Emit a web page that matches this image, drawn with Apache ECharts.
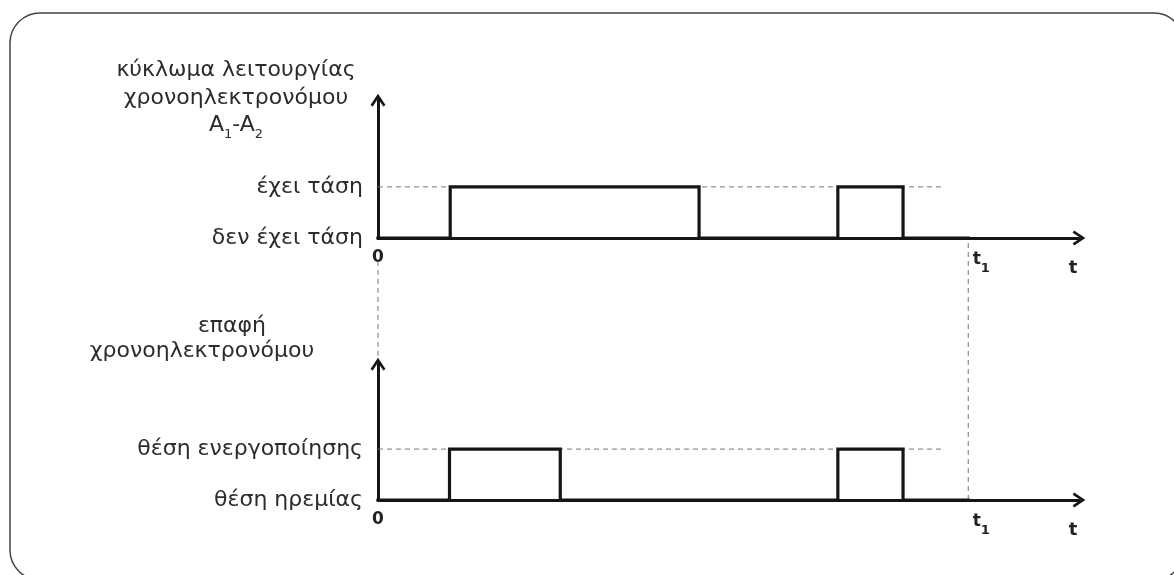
<!DOCTYPE html>
<html><head><meta charset="utf-8">
<script src="https://cdn.jsdelivr.net/npm/echarts@6/dist/echarts.min.js"></script>
<style>html,body{margin:0;padding:0;background:#fff}#c{width:1174px;height:575px}</style>
</head><body><div id="c"></div>
<script>
// ---- data ----
const timeMax = 100;
const t1 = 84.2;
const topLevels = ['δεν έχει τάση', 'έχει τάση'];
const bottomLevels = ['θέση ηρεμίας', 'θέση ενεργοποίησης'];
const topSignal = [[0,0],[10.3,0],[10.3,1],[45.8,1],[45.8,0],[65.6,0],[65.6,1],[74.9,1],[74.9,0],[84.2,0]];
const bottomSignal = [[0,0],[10.2,0],[10.2,1],[26.0,1],[26.0,0],[65.6,0],[65.6,1],[74.9,1],[74.9,0],[84.2,0]];
const topRefLine = [[0,1],[80.5,1]];
const bottomRefLine = [[0,1],[80.5,1]];
const zeroGuide = [[0,0.55],[0,0.91]];
const t1Guide = [[t1,0],[t1,1]];
const xTickValues = [0, t1];
const topTitle = ['κύκλωμα λειτουργίας', 'χρονοηλεκτρονόμου'];
const bottomTitle = ['επαφή', 'χρονοηλεκτρονόμου'];

const FONT = 'DejaVu Sans';
const TXT = '#2c2c2c';
const LINE = '#151515';
const FS = 22;
const arrow = 'path://M0,9 L6,0 L12,9 L10.2,10.2 L6,3.8 L1.8,10.2 Z';

function xAxisFor(gi, show) {
  return {
    type: 'value', gridIndex: gi, min: 0, max: timeMax, show: show,
    splitLine: {show: false}, axisTick: {show: false},
    axisLine: {show: show, symbol: ['none', arrow], symbolSize: [15, 16], lineStyle: {color: LINE, width: 3}},
    axisLabel: {
      show: show, customValues: xTickValues, margin: 9,
      formatter: v => v === 0 ? '{b|0}' : '{t|t}{s|1}',
      rich: {
        b: {fontFamily: FONT, fontWeight: 'bold', fontSize: 17, color: '#222', lineHeight: 22},
        t: {fontFamily: FONT, fontWeight: 'bold', fontSize: 17, color: '#222', lineHeight: 22, padding: [4,0,0,26]},
        s: {fontFamily: FONT, fontWeight: 'bold', fontSize: 13, color: '#222', lineHeight: 22, verticalAlign: 'bottom', padding: [0,0,-6,0]}
      }
    },
    name: show ? 't' : '', nameLocation: 'end', nameGap: -6,
    nameTextStyle: {fontFamily: FONT, fontWeight: 'bold', fontSize: 18, color: '#222', align: 'center', verticalAlign: 'top', padding: [21,0,0,0]}
  };
}
function yAxisFor(gi, max, levels) {
  return {
    type: 'value', gridIndex: gi, min: 0, max: max, interval: 1,
    splitLine: {show: false}, axisTick: {show: false},
    axisLine: {show: true, symbol: ['none', arrow], symbolSize: [15, 16], lineStyle: {color: LINE, width: 3}},
    axisLabel: {
      margin: 15, fontFamily: FONT, fontSize: FS, color: TXT,
      formatter: v => v === 0 ? levels[0] : (v === 1 ? levels[1] : '')
    }
  };
}
const dashStyle = {color: '#777', width: 1, type: [5, 4]};
const sigStyle = {color: LINE, width: 3.2, join: 'miter', cap: 'square'};
const titleStyle = {fontFamily: FONT, fontSize: FS, fontWeight: 'normal', color: TXT, lineHeight: 26};

const option = {
  animation: false,
  backgroundColor: '#fff',
  graphic: [{type: 'rect', shape: {x: 10, y: 13, width: 1174, height: 567, r: 30}, style: {fill: 'none', stroke: '#444', lineWidth: 1.5}, silent: true}],
  title: [
    {text: topTitle[0] + '\n' + topTitle[1] + '\n{a|A}{s|1}{a|-A}{s|2}', left: 236, top: 57, textAlign: 'center', padding: 0,
     textStyle: {fontFamily: FONT, fontSize: FS, fontWeight: 'normal', color: TXT, lineHeight: 27.5,
       rich: {a: {fontFamily: FONT, fontSize: FS, color: TXT, lineHeight: 27.5},
              s: {fontFamily: FONT, fontSize: 13, color: TXT, lineHeight: 27.5, verticalAlign: 'bottom', padding: [0,0,-2,0]}}}},
    {text: bottomTitle[0], left: 232, top: 313, textAlign: 'center', padding: 0, textStyle: titleStyle},
    {text: bottomTitle[1], left: 202, top: 338, textAlign: 'center', padding: 0, textStyle: titleStyle}
  ],
  grid: [
    {left: 378, right: 95, top: 100, bottom: 337},
    {left: 378, right: 95, top: 364, bottom: 75},
    {left: 378, right: 95, top: 238, bottom: 75}
  ],
  xAxis: [xAxisFor(0, true), xAxisFor(1, true), xAxisFor(2, false)],
  yAxis: [yAxisFor(0, 2.7, topLevels), yAxisFor(1, 2.67, bottomLevels),
          {type: 'value', gridIndex: 2, min: 0, max: 1, show: false}],
  series: [
    {type: 'line', xAxisIndex: 0, yAxisIndex: 0, data: topRefLine, showSymbol: false, lineStyle: dashStyle, z: 1},
    {type: 'line', xAxisIndex: 1, yAxisIndex: 1, data: bottomRefLine, showSymbol: false, lineStyle: dashStyle, z: 1},
    {type: 'line', xAxisIndex: 2, yAxisIndex: 2, data: zeroGuide, showSymbol: false, lineStyle: dashStyle, z: 1},
    {type: 'line', xAxisIndex: 2, yAxisIndex: 2, data: t1Guide, showSymbol: false, lineStyle: dashStyle, z: 1},
    {type: 'line', xAxisIndex: 0, yAxisIndex: 0, data: topSignal, showSymbol: false, lineStyle: sigStyle, z: 3},
    {type: 'line', xAxisIndex: 1, yAxisIndex: 1, data: bottomSignal, showSymbol: false, lineStyle: sigStyle, z: 3}
  ]
};
echarts.init(document.getElementById('c'), null, {renderer: 'canvas'}).setOption(option);
</script></body></html>
